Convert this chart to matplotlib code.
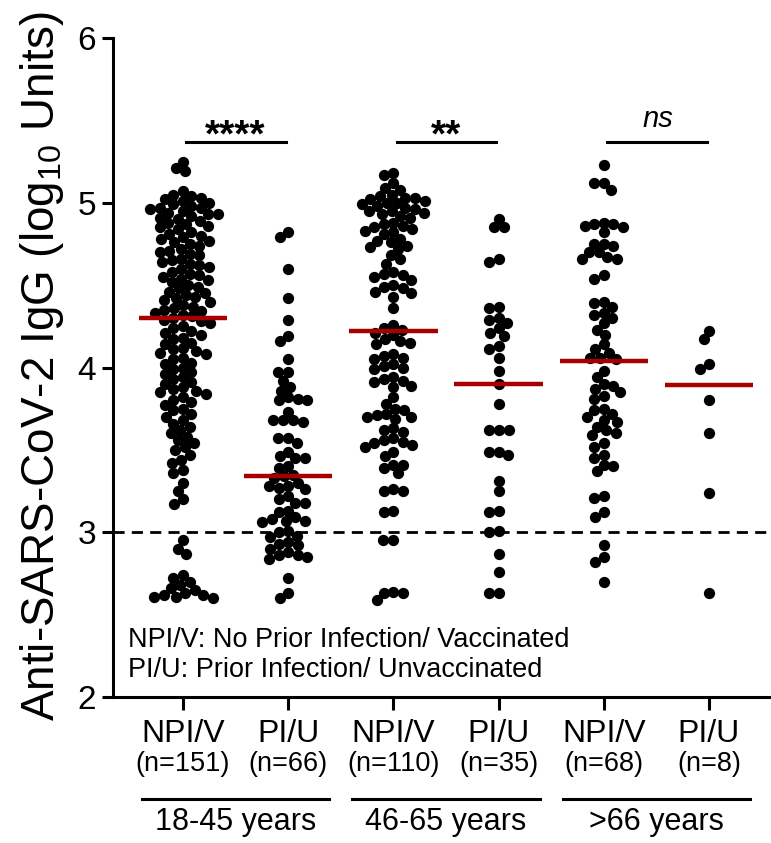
import numpy as np
import matplotlib
matplotlib.use('Agg')
import matplotlib.pyplot as plt
from matplotlib import transforms

plt.rcParams['font.family'] = 'Liberation Sans'
plt.rcParams['mathtext.fontset'] = 'custom'
plt.rcParams['mathtext.rm'] = 'Liberation Sans'
plt.rcParams['mathtext.it'] = 'Liberation Sans:italic'

# values (log10 units)
npi_18_45 = [5.25, 5.21, 5.19,
             5.07, 5.05, 5.04, 5.03, 5.02, 5.01, 5.00, 4.99, 4.98, 4.97, 4.97, 4.96, 4.95, 4.94, 4.93, 4.93,
             4.92, 4.91, 4.90,
             4.89, 4.88, 4.87, 4.86, 4.85, 4.84, 4.82, 4.81, 4.80, 4.79, 4.78, 4.77, 4.76, 4.75, 4.74, 4.72,
             4.71, 4.70,
             4.69, 4.68, 4.66, 4.65, 4.64, 4.63, 4.62, 4.61, 4.60, 4.58, 4.57, 4.56, 4.55, 4.54, 4.53, 4.52, 4.50,
             4.49, 4.48, 4.46, 4.45, 4.44, 4.43, 4.42, 4.41, 4.40, 4.38, 4.37, 4.36, 4.35, 4.34, 4.33, 4.32,
             4.31, 4.30,
             4.29, 4.28, 4.27, 4.25, 4.24, 4.22, 4.21, 4.20, 4.18, 4.17, 4.15, 4.14, 4.12, 4.11, 4.10,
             4.09, 4.08, 4.06, 4.05, 4.03, 4.02, 4.00, 3.99, 3.97, 3.96, 3.94, 3.93, 3.91, 3.90,
             3.88, 3.87, 3.86, 3.85, 3.84, 3.82, 3.80, 3.79, 3.77, 3.75, 3.74, 3.72, 3.70,
             3.68, 3.66, 3.64, 3.62, 3.60, 3.58, 3.56, 3.54, 3.52, 3.50,
             3.47, 3.44, 3.42, 3.38, 3.36, 3.30, 3.25, 3.20, 3.17,
             2.95, 2.90, 2.87,
             2.74, 2.72, 2.70, 2.68, 2.66, 2.65, 2.63, 2.62, 2.62, 2.61, 2.61, 2.60]
pi_18_45 = [4.82, 4.79, 4.60, 4.42, 4.29, 4.19, 4.16,
            4.05, 3.97, 3.97, 3.92, 3.88, 3.86, 3.82, 3.81, 3.80, 3.80, 3.73, 3.68, 3.68, 3.67, 3.68,
            3.57, 3.57, 3.54, 3.49, 3.45, 3.45, 3.46, 3.40, 3.39,
            3.35, 3.33, 3.34, 3.30, 3.28, 3.26, 3.27, 3.28,
            3.22, 3.18, 3.20, 3.18,
            3.13, 3.07, 3.09, 3.12, 3.07, 3.08, 3.06,
            3.00, 3.01, 2.98,
            2.93, 2.94, 2.92, 2.97, 2.90, 2.86, 2.85, 2.86, 2.84, 2.88,
            2.72, 2.60, 2.63]
npi_46_65 = [5.18, 5.17, 5.12, 5.09, 5.08,
             5.05, 5.04, 5.03, 5.03, 5.02, 5.01, 5.00, 5.00, 4.99, 4.98,
             4.97, 4.96, 4.95, 4.95, 4.94, 4.93, 4.92, 4.91,
             4.88, 4.87, 4.86, 4.85, 4.84, 4.83, 4.82, 4.81,
             4.78, 4.77, 4.76, 4.74, 4.73, 4.72,
             4.68, 4.66, 4.63,
             4.58, 4.57, 4.56, 4.55, 4.53,
             4.50, 4.49, 4.48, 4.46, 4.45, 4.43,
             4.36, 4.26, 4.24, 4.23,
             4.21, 4.20,
             4.17, 4.16, 4.15, 4.14,
             4.08, 4.07, 4.06, 4.05,
             4.02, 4.01, 4.00, 3.99,
             3.94, 3.93, 3.92, 3.91,
             3.89, 3.88,
             3.82, 3.78, 3.75, 3.74,
             3.72, 3.71, 3.70, 3.70, 3.69,
             3.63, 3.62, 3.61,
             3.57, 3.56, 3.55, 3.54, 3.53, 3.52,
             3.49, 3.46,
             3.41, 3.41, 3.39, 3.36,
             3.26, 3.25, 3.25,
             3.13, 3.12,
             2.95, 2.95,
             2.64, 2.63, 2.63, 2.59]
pi_46_65 = [4.90, 4.85, 4.85, 4.64, 4.66, 4.36, 4.37, 4.30, 4.24, 4.27, 4.29, 4.19, 4.21, 4.11, 4.13,
            4.06, 3.98, 3.90, 3.78, 3.62, 3.62, 3.62, 3.47, 3.49, 3.49, 3.31, 3.25, 3.12, 3.13,
            3.00, 3.01, 2.87, 2.76, 2.63, 2.63]
npi_66 = [5.23, 5.12, 5.12, 5.08,
          4.87, 4.88, 4.85, 4.86, 4.87, 4.82,
          4.70, 4.70, 4.75, 4.74, 4.75, 4.66, 4.66, 4.67,
          4.54, 4.56,
          4.40, 4.37, 4.39, 4.33, 4.30, 4.32,
          4.27, 4.23, 4.20,
          4.14, 4.11, 4.09, 4.06, 4.05, 4.06, 3.98, 3.94,
          3.87, 3.85, 3.83, 3.90, 3.89,
          3.81, 3.75, 3.74, 3.72, 3.70, 3.68, 3.67, 3.64, 3.62, 3.59, 3.60, 3.54, 3.52, 3.45, 3.47,
          3.40, 3.41, 3.37,
          3.21, 3.22, 3.12, 3.09,
          2.92, 2.82, 2.85, 2.70]
pi_66 = [4.22, 4.17, 4.02, 3.99, 3.80, 3.60, 3.24, 2.63]

groups = [npi_18_45, pi_18_45, npi_46_65, pi_46_65, npi_66, pi_66]
medians = [4.30, 3.34, 4.22, 3.90, 4.04, 3.895]
tick_names = ['NPI/V', 'PI/U', 'NPI/V', 'PI/U', 'NPI/V', 'PI/U']
n_labels = ['(n=151)', '(n=66)', '(n=110)', '(n=35)', '(n=68)', '(n=8)']
age_groups = ['18-45 years', '46-65 years', '>66 years']
comparisons = [(0, 1, '****'), (2, 3, '**'), (4, 5, 'ns')]
threshold = 3.0

W, H = 771, 843
RED = '#a80000'


def swarm(yp, d):
    # simple beeswarm in pixel space, points added from the top down
    cands = sorted(np.arange(-80, 80.5, 0.5), key=abs)
    placed = []
    xs = np.zeros(len(yp))
    for i in np.argsort(-yp):
        for c in cands:
            if all((px - c) ** 2 + (py - yp[i]) ** 2 >= d * d for px, py in placed):
                break
        xs[i] = c
        placed.append((c, yp[i]))
    return xs


fig = plt.figure(figsize=(W / 100, H / 100), dpi=100)
ax = fig.add_axes([113 / W, (H - 697) / H, (W - 113) / W, (697 - 38) / H])
xmin, xmax = -0.665, 5.59
ax.set_xlim(xmin, xmax)
ax.set_ylim(2, 6)
sx = (W - 113) / (xmax - xmin)
sy = (697 - 38) / 4.0

for i, vals in enumerate(groups):
    v = np.array(vals)
    off = swarm(v * sy, 9.6)
    ax.scatter(i + off / sx, v, s=66, c='black', linewidths=0, zorder=3)
    ax.hlines(medians[i], i - 0.42, i + 0.42, color=RED, lw=3.2, zorder=4)

ax.axhline(threshold, color='black', lw=2.0, dashes=(4, 2.6), zorder=1)

# significance bars
bar_y = 5.37
for a, b, lab in comparisons:
    ax.plot([a + 0.03, b - 0.02], [bar_y, bar_y], color='black', lw=2.2, clip_on=False)
    mid = (a + b) / 2
    if lab == 'ns':
        ax.text(mid + 0.02, bar_y + 0.09, lab, ha='center', va='baseline', fontsize=21, style='italic')
    else:
        ax.text(mid, bar_y - 0.03, lab, ha='center', va='baseline', fontsize=28, fontweight='bold')

for sp in ['top', 'right']:
    ax.spines[sp].set_visible(False)
for sp in ['left', 'bottom']:
    ax.spines[sp].set_linewidth(2.2)

ax.set_yticks([2, 3, 4, 5, 6])
ax.tick_params(axis='y', width=2.2, length=8, labelsize=24, pad=4)
ax.set_xticks(range(6))
ax.set_xticklabels(tick_names)
ax.tick_params(axis='x', width=2.2, length=9, labelsize=23, pad=7)

tr = transforms.blended_transform_factory(ax.transData, fig.transFigure)
for i, lab in enumerate(n_labels):
    ax.text(i, 1 - 764 / H, lab, transform=tr, ha='center', va='center', fontsize=19.5)

for k, name in enumerate(age_groups):
    c = 2 * k + 0.5
    ax.plot([c - 0.89, c + 0.89], [1 - 799 / H] * 2, transform=tr, color='black', lw=2.2, clip_on=False)
    ax.text(c, 1 - 822 / H, name, transform=tr, ha='center', va='center', fontsize=22)

fig.text(128 / W, 1 - 640 / H, 'NPI/V: No Prior Infection/ Vaccinated', ha='left', va='center', fontsize=19.5)
fig.text(128 / W, 1 - 670 / H, 'PI/U: Prior Infection/ Unvaccinated', ha='left', va='center', fontsize=19.5)

fig.text(42 / W, 1 - 366 / H, r'Anti-SARS-CoV-2 IgG (log$_{10}$ Units)', rotation=90,
         ha='center', va='center', fontsize=33)

fig.savefig('out.png', dpi=100, facecolor='white')
